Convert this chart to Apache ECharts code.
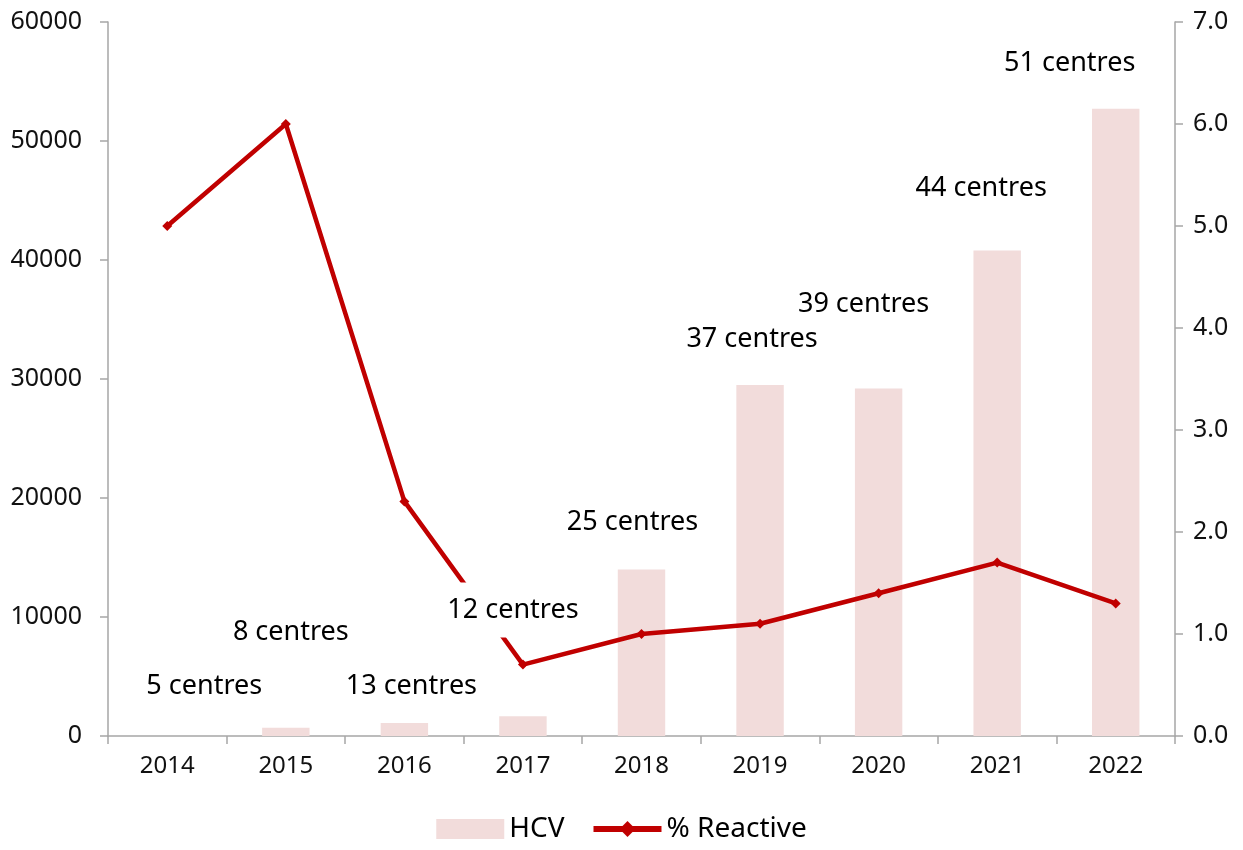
<!DOCTYPE html>
<html><head><meta charset="utf-8">
<script src="https://cdn.jsdelivr.net/npm/echarts@6/dist/echarts.min.js"></script>
<style>html,body{margin:0;padding:0;background:#fff}#c{width:1243px;height:850px}</style>
</head><body><div id="c"></div>
<script>
const years = ['2014','2015','2016','2017','2018','2019','2020','2021','2022'];
const hcv = [0, 700, 1100, 1650, 14000, 29500, 29200, 40800, 52700];
const reactive = [5.0, 6.0, 2.3, 0.7, 1.0, 1.1, 1.4, 1.7, 1.3];
const centreLabels = ['5 centres','8 centres','13 centres','12 centres','25 centres','37 centres','39 centres','44 centres','51 centres'];
const centreLabelY = [4200, 8740, 4200, 10590, 17980, 33360, 36300, 46050, 56550];
const centreLabelDx = [37, 5, 7, -10, -9, -8, -15, -16, -46];
const leftTicks = [0, 10000, 20000, 30000, 40000, 50000, 60000];
const rightTicks = [0, 1, 2, 3, 4, 5, 6, 7];

const font = 'Noto Sans';
const axisCol = '#A6A6A6';
const chart = echarts.init(document.getElementById('c'));
chart.setOption({
  animation: false,
  backgroundColor: '#fff',
  textStyle: {fontFamily: font},
  grid: {left: 108, right: 68, top: 22, bottom: 114, containLabel: false},
  legend: {
    bottom: 2, left: 'center', itemWidth: 68, itemHeight: 20, itemGap: 26,
    textStyle: {fontSize: 28, color: '#000', fontFamily: font},
    data: [{name: 'HCV', icon: 'rect'}, {name: '% Reactive', lineStyle: {width: 6}}]
  },
  xAxis: {
    type: 'category', data: years, boundaryGap: true,
    axisLine: {lineStyle: {color: axisCol, width: 1.5}},
    axisTick: {show: true, length: 8, lineStyle: {color: axisCol, width: 1.5}},
    axisLabel: {fontSize: 24, color: '#111', margin: 18, fontFamily: font}
  },
  yAxis: [{
    type: 'value', min: 0, max: 60000, interval: 10000,
    axisLine: {show: true, lineStyle: {color: axisCol, width: 1.5}},
    axisTick: {show: true, length: 8, lineStyle: {color: axisCol, width: 1.5}},
    splitLine: {show: false},
    axisLabel: {fontSize: 25, color: '#111', margin: 26, fontFamily: font,
      formatter: v => leftTicks.includes(v) ? String(v) : ''}
  }, {
    type: 'value', min: 0, max: 7, interval: 1, position: 'right',
    axisLine: {show: true, lineStyle: {color: axisCol, width: 1.5}},
    axisTick: {show: true, length: 8, lineStyle: {color: axisCol, width: 1.5}},
    splitLine: {show: false},
    axisLabel: {fontSize: 25, color: '#111', margin: 18, fontFamily: font,
      formatter: v => rightTicks.includes(v) ? v.toFixed(1) : ''}
  }],
  series: [{
    name: 'HCV', type: 'bar', yAxisIndex: 0, data: hcv, barWidth: '40%',
    itemStyle: {color: '#F2DCDB'}, z: 1
  }, {
    name: '% Reactive', type: 'line', yAxisIndex: 1, data: reactive,
    lineStyle: {color: '#C00000', width: 4.5}, itemStyle: {color: '#C00000'},
    symbol: 'diamond', symbolSize: 10, showAllSymbol: true, z: 3
  }, {
    name: 'labels', type: 'scatter', yAxisIndex: 0, symbolSize: 1, z: 10, zlevel: 1,
    itemStyle: {opacity: 0},
    data: years.map((y, i) => ({
      value: [y, centreLabelY[i]],
      label: {show: true, position: 'inside', offset: [centreLabelDx[i], 0],
        formatter: centreLabels[i], fontSize: 27, color: '#000', opacity: 1, fontFamily: font,
        backgroundColor: '#fff', padding: [14, 8]}
    })),
    silent: true, tooltip: {show: false}
  }]
});
</script></body></html>
